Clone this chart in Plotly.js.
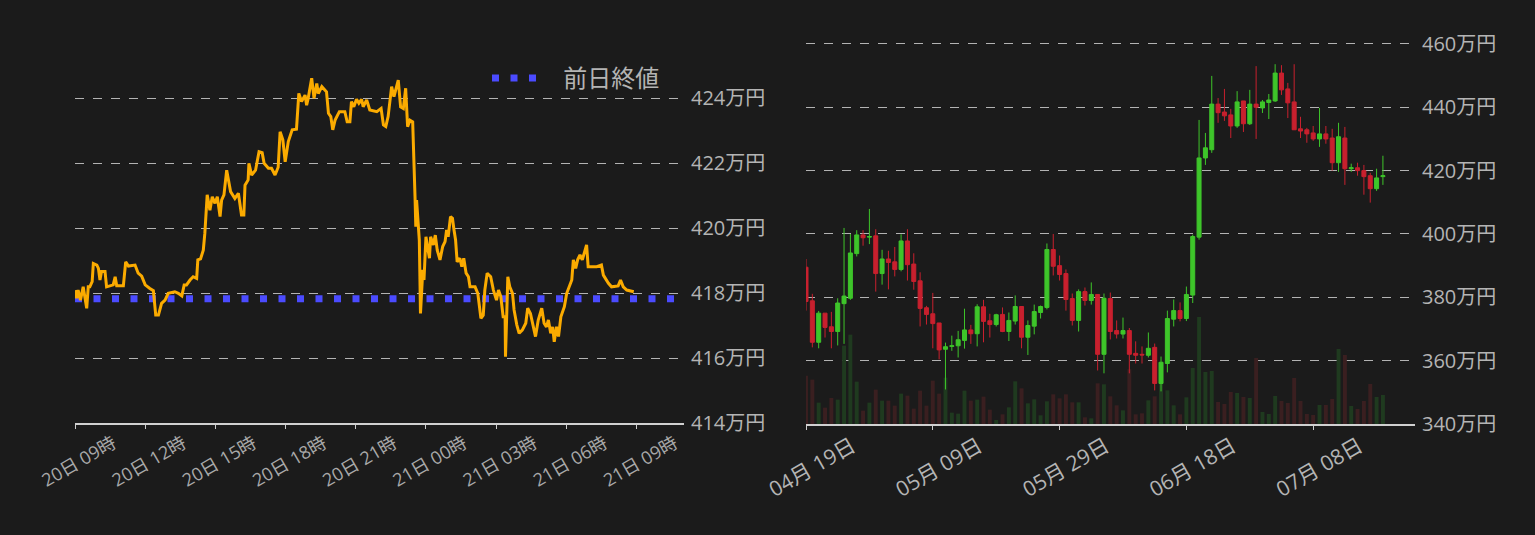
<!DOCTYPE html>
<html><head><meta charset="utf-8">
<script src="https://cdn.plot.ly/plotly-3.0.1.min.js"></script>
<style>html,body{margin:0;padding:0;background:#1b1b1b;}#chart{width:1535px;height:535px;}</style>
</head><body><div id="chart"></div>
<script>
// ---- intraday (left) ----
const intradayStartUTC = Date.UTC(2024, 6, 20, 9, 0); // 20日 09時
const lineMinutes = [1,4,8,14,21,30,34,38,44,47,56,60,64,68,77,81,98,103,107,124,130,137,154,162,171,180,192,201,207,214,222,231,239,256,265,274,280,286,295,303,312,315,322,329,333,339,346,352,359,365,372,376,382,389,399,410,419,427,433,436,444,446,453,463,472,480,485,496,504,513,521,526,533,539,547,557,568,574,581,590,594,598,607,613,620,624,633,645,650,656,661,667,678,692,698,705,709,715,722,728,735,739,748,756,774,785,791,797,803,812,818,829,835,842,848,853,859,866,872,874,876,883,886,892,895,900,909,912,919,924,929,936,943,949,953,957,963,968,972,976,980,987,992,997,1003,1009,1013,1026,1033,1037,1041,1047,1051,1057,1066,1073,1081,1086,1092,1098,1103,1104,1110,1115,1122,1126,1133,1139,1147,1156,1161,1168,1175,1181,1188,1197,1203,1209,1214,1220,1225,1229,1235,1240,1246,1255,1261,1268,1274,1278,1284,1289,1295,1301,1312,1316,1338,1350,1355,1368,1376,1393,1399,1406,1415,1433];
const linePrices = [418.09,417.84,418.09,417.78,418.19,417.53,418.19,418.19,418.35,418.91,418.86,418.76,418.40,418.66,418.66,418.19,418.25,418.50,418.22,418.22,418.96,418.83,418.86,418.61,418.52,418.25,418.14,418.07,417.32,417.32,417.68,417.78,417.99,418.04,417.99,417.91,418.25,418.25,418.40,418.50,418.45,419.02,419.05,419.32,419.84,421.02,420.55,420.96,420.76,420.96,420.35,420.86,421.02,421.78,421.12,420.91,421.07,420.40,420.40,421.32,421.48,421.99,421.63,421.78,422.35,422.32,421.99,421.84,421.84,421.63,421.87,422.96,422.71,422.04,422.66,423.02,423.04,424.14,423.89,424.09,423.78,423.99,424.61,423.99,424.45,424.14,424.35,424.19,423.53,423.43,423.02,423.32,423.58,423.58,423.27,423.27,423.89,423.73,423.96,423.84,423.96,423.73,423.94,423.63,423.58,423.68,423.17,423.12,423.43,424.35,424.04,424.55,423.73,423.68,424.30,423.12,423.32,423.27,420.96,420.04,420.86,419.63,417.37,418.71,418.40,419.73,419.07,419.73,419.48,419.78,419.32,419.02,419.43,419.58,419.94,419.73,420.35,420.30,419.94,419.63,418.96,419.07,418.81,419.07,418.61,418.50,418.19,418.19,417.99,417.68,417.22,417.32,418.09,418.61,418.50,418.09,417.78,418.09,417.89,417.27,417.27,416.04,418.50,418.19,417.99,417.48,417.02,416.76,416.86,417.07,417.53,417.37,416.96,416.66,417.17,417.53,417.07,416.96,417.17,416.76,416.96,416.50,416.96,416.66,417.27,417.58,417.99,418.19,418.40,419.02,418.76,419.02,419.17,419.02,419.48,418.81,418.81,418.86,418.55,418.30,418.19,418.22,418.40,418.19,418.09,418.04];
const prevClose = 417.82;
const prevCloseName = '前日終値';
const leftTickVals = [414, 416, 418, 420, 422, 424];
const priceUnit = '万円';

// ---- daily candles (right) ----
const candleStartUTC = Date.UTC(2024, 3, 19); // 04月19日
const candleOpen  = [389.5,378.9,365.8,375.0,370.7,369.2,378.0,379.7,393.8,399.7,399.0,399.4,387.5,392.1,391.2,388.8,397.8,390.5,385.2,376.7,374.8,371.9,363.6,364.5,364.7,366.4,369.7,368.5,377.0,372.6,371.4,374.6,369.2,372.5,377.1,367.4,370.9,375.2,376.8,395.1,390.0,387.5,379.6,372.7,381.8,379.0,380.9,362.0,379.6,369.5,368.4,369.5,362.3,362.0,361.7,364.2,352.8,359.1,373.1,375.8,373.3,380.7,399.0,424.0,426.6,441.0,438.5,437.6,434.1,442.0,434.8,441.0,439.8,441.5,442.0,450.8,445.8,441.7,433.2,432.9,431.9,430.0,431.6,430.3,422.5,430.3,420.6,420.9,420.0,418.4,414.3,418.1];
const candleHigh  = [392.1,381.1,375.7,375.0,375.4,379.7,401.9,400.0,401.2,401.2,407.9,401.5,395.0,394.7,395.9,399.9,401.5,393.9,387.9,377.3,381.4,371.9,365.7,367.9,369.4,376.4,371.3,377.8,379.2,374.8,374.8,376.8,375.2,380.6,377.1,372.7,377.7,377.4,397.0,400.0,393.2,388.8,381.2,382.5,383.1,384.7,380.9,381.2,381.5,372.7,373.6,370.3,366.1,364.5,368.9,365.4,361.3,375.8,379.3,378.4,383.4,399.8,436.0,431.9,449.9,442.9,445.8,439.5,445.1,442.0,445.5,453.0,442.3,444.2,453.6,453.3,447.7,453.6,437.0,433.5,434.1,439.8,434.1,433.2,435.1,433.8,422.2,422.5,421.8,419.3,420.6,424.7];
const candleLow   = [375.8,364.2,363.9,367.3,363.9,364.8,365.3,379.2,392.9,396.3,396.8,381.8,384.0,382.5,386.6,388.2,385.3,382.4,370.8,371.4,363.9,360.4,350.9,363.1,361.0,363.8,365.3,364.5,365.8,367.3,370.8,369.0,366.2,371.4,363.9,361.8,368.3,373.3,376.2,386.9,385.3,375.8,371.1,369.2,377.4,377.7,356.9,356.0,366.7,367.0,367.0,356.0,359.1,359.1,361.0,350.6,350.3,356.3,370.8,372.4,372.5,378.2,398.2,421.8,425.6,435.1,435.7,430.3,433.5,432.2,434.4,430.0,438.2,436.3,441.7,443.9,436.6,432.9,430.3,428.8,429.4,427.5,428.5,420.0,419.6,415.5,419.6,418.4,412.4,409.9,413.6,415.5];
const candleClose = [378.7,365.8,375.0,370.5,369.2,378.2,380.4,394.0,399.7,398.8,399.2,387.5,392.1,391.0,388.8,397.8,390.3,385.0,376.5,374.6,371.7,363.4,364.4,364.7,366.6,369.7,368.5,377.0,372.4,371.4,374.5,369.2,372.7,377.1,367.4,371.1,375.5,377.1,395.1,389.8,387.2,379.3,372.7,381.8,379.0,380.9,362.0,379.7,369.2,368.4,369.5,362.0,361.7,361.8,363.9,352.8,359.5,373.3,375.8,373.3,380.9,399.2,424.0,427.2,441.0,438.3,437.3,434.1,441.7,434.8,441.0,440.0,441.7,442.3,450.8,445.5,441.4,432.9,432.5,431.6,430.0,431.6,430.0,422.5,430.7,420.6,420.9,420.0,418.1,414.3,417.7,418.4];
const candleVolume = [145,133,64,49,78,73,235,268,127,40,64,103,70,70,55,91,85,46,100,55,130,91,139,34,31,100,70,73,82,43,12,29,50,128,107,62,74,26,68,89,77,89,65,65,20,17,122,119,83,56,41,164,29,32,71,83,128,101,56,29,80,168,321,156,159,66,60,96,93,81,78,198,36,30,84,69,63,138,69,30,27,57,57,75,225,207,54,45,69,120,81,87];
const rightTickVals = [340, 360, 380, 400, 420, 440, 460];

// ---- helpers ----
const fmtDT = ms => new Date(ms).toISOString().slice(0, 19).replace('T', ' ');
const lineX = lineMinutes.map(m => fmtDT(intradayStartUTC + m * 60000));
const leftRange = [fmtDT(intradayStartUTC), fmtDT(intradayStartUTC + 26.03 * 3600000)];
const candleX = candleOpen.map((_, i) => fmtDT(candleStartUTC + i * 86400000).slice(0, 10));
const rightRange = [fmtDT(candleStartUTC), fmtDT(candleStartUTC + 96.06 * 86400000)];
const upColor = '#3ec52a', downColor = '#c8202e';
const volColors = candleClose.map((c, i) => c >= candleOpen[i] ? '#1f3a1f' : '#3a1f20');

const W = 1535, H = 535;
const fx = p => p / W, fy = p => (H - p) / H;
const gridStyle = {showgrid: true, gridcolor: '#b3b3b3', griddash: 'dash', gridwidth: 1, zeroline: false, showline: false, ticks: ''};
const font = 'Open Sans, Noto Sans CJK JP, sans-serif';
const cjk = 'Noto Sans CJK JP, sans-serif';

const traces = [
  {type: 'scatter', mode: 'lines', x: leftRange, y: [prevClose, prevClose], xaxis: 'x', yaxis: 'y',
   name: '\u00a0\u00a0\u00a0' + prevCloseName, line: {color: '#4b4bff', width: 7, dash: '7px,11.5px'}, showlegend: true, hoverinfo: 'skip'},
  {type: 'scatter', mode: 'lines', x: lineX, y: linePrices, xaxis: 'x', yaxis: 'y',
   line: {color: '#fbab00', width: 3}, showlegend: false, hoverinfo: 'skip'},
  {type: 'bar', x: candleX, y: candleVolume, xaxis: 'x2', yaxis: 'y2', marker: {color: volColors, line: {width: 0}},
   width: 0.62 * 86400000, showlegend: false, hoverinfo: 'skip'},
  {type: 'candlestick', x: candleX, open: candleOpen, high: candleHigh, low: candleLow, close: candleClose,
   xaxis: 'x2', yaxis: 'y3', showlegend: false, hoverinfo: 'skip', whiskerwidth: 0,
   increasing: {line: {color: upColor, width: 1}, fillcolor: upColor},
   decreasing: {line: {color: downColor, width: 1}, fillcolor: downColor}}
];

const layout = {
  width: W, height: H, margin: {l: 0, r: 0, t: 0, b: 0},
  paper_bgcolor: '#1b1b1b', plot_bgcolor: '#1b1b1b',
  font: {family: font, color: '#b4b4b4'},
  boxgap: 0.1,
  showlegend: true,
  legend: {x: fx(665), xanchor: 'right', y: fy(56), yanchor: 'top', bgcolor: 'rgba(0,0,0,0)',
           font: {size: 24, color: '#b4b4b4', family: cjk}, itemwidth: 50},
  xaxis: {domain: [fx(75), fx(684)], anchor: 'y', type: 'date', range: leftRange,
          tick0: fmtDT(intradayStartUTC), dtick: 3 * 3600000, tickformat: '%d日 %H時', tickangle: -30,
          ticks: 'outside', ticklen: 4, tickcolor: '#cccccc', showline: true, linecolor: '#d0d0d0', linewidth: 2,
          showgrid: false, zeroline: false, tickfont: {size: 18, color: '#a9a9a9', family: font},
          ticklabelshift: 38, ticklabelstandoff: -3},
  yaxis: Object.assign({domain: [fy(423), fy(60)], anchor: 'x', side: 'right', range: [414, 425.17],
          tickmode: 'array', tickvals: leftTickVals, ticktext: leftTickVals.map(v => v + priceUnit),
          tickfont: {size: 20, color: '#b4b4b4', family: font}, ticklabelstandoff: 6}, gridStyle),
  xaxis2: {domain: [fx(806), fx(1415)], anchor: 'y2', type: 'date', range: rightRange,
           tick0: fmtDT(candleStartUTC).slice(0, 10), dtick: 20 * 86400000, tickformat: '%m月 %d日', tickangle: -30,
           ticks: 'outside', ticklen: 4, tickcolor: '#cccccc', showline: true, linecolor: '#d0d0d0', linewidth: 2,
           showgrid: false, zeroline: false, rangeslider: {visible: false},
           tickfont: {size: 21, color: '#b4b4b4', family: font}, ticklabelshift: 46, ticklabelstandoff: -4},
  yaxis2: {domain: [fy(424), fy(30)], anchor: 'x2', range: [0, 1182], visible: false, showgrid: false, zeroline: false},
  yaxis3: Object.assign({domain: [fy(424), fy(30)], anchor: 'x2', overlaying: 'y2', side: 'right', range: [340, 464.4],
           tickmode: 'array', tickvals: rightTickVals, ticktext: rightTickVals.map(v => v + priceUnit),
           tickfont: {size: 20, color: '#b4b4b4', family: font}, ticklabelstandoff: 6}, gridStyle)
};

Plotly.newPlot('chart', traces, layout, {staticPlot: true, displayModeBar: false});
</script>
</body></html>
